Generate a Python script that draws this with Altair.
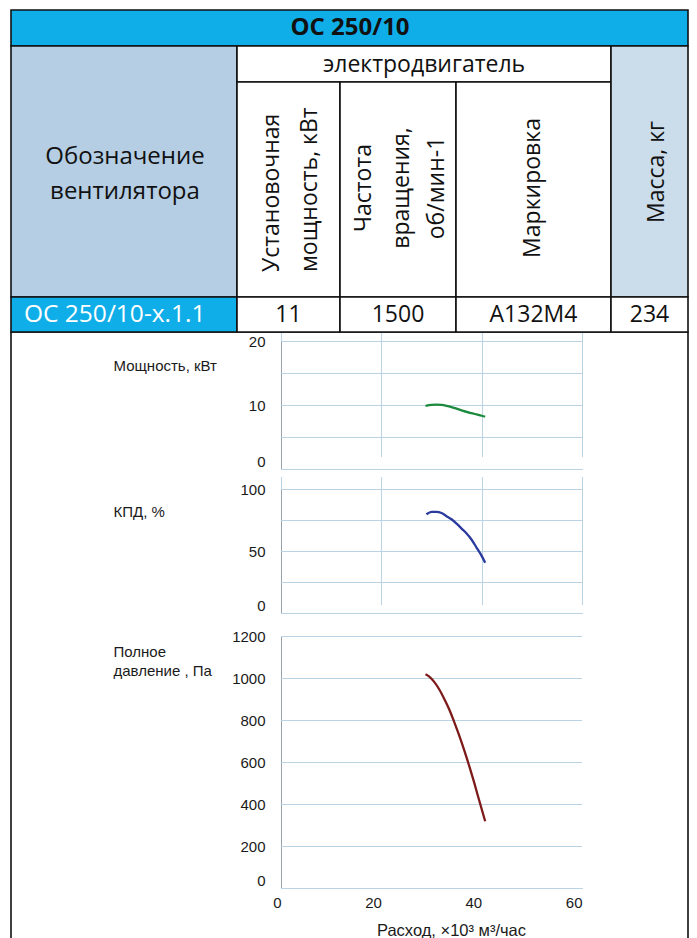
import altair as alt
import pandas as pd

# ---------------- data ----------------
TITLE = "ОС 250/10"
DESIGNATION_HEADER = ["Обозначение", "вентилятора"]
MOTOR_HEADER = "электродвигатель"
POWER_HEADER = ["Установочная", "мощность, кВт"]
SPEED_HEADER = ["Частота", "вращения,", "об/мин-1"]
MARK_HEADER = "Маркировка"
MASS_HEADER = "Масса, кг"
ROW_VALUES = ["ОС 250/10-x.1.1", "11", "1500", "А132М4", "234"]

FLOW_POWER = [28.8, 30.0, 31.0, 32.0, 33.0, 34.0, 35.0, 36.0, 37.0, 38.0, 39.0, 40.0, 40.7]
POWER_KW = [9.95, 10.1, 10.15, 10.1, 9.95, 9.75, 9.5, 9.25, 9.0, 8.8, 8.6, 8.4, 8.25]
FLOW_EFF = [29.0, 30.0, 31.0, 32.0, 33.0, 34.0, 35.0, 36.0, 37.0, 38.0, 39.0, 40.0, 40.7]
EFF_PCT = [80.0, 82.0, 82.0, 81.0, 78.5, 76.0, 72.5, 68.5, 64.5, 59.5, 53.0, 46.5, 41.0]
FLOW_PRESS = [28.8, 29.5, 30.5, 31.5, 32.5, 33.5, 34.5, 35.5, 36.5, 37.5, 38.5, 39.5, 40.7]
PRESS_PA = [1020, 1010, 985, 950, 905, 855, 795, 730, 660, 585, 505, 420, 320]

X_TICKS = [0, 20, 40, 60]
POWER_TICKS = [0, 5, 10, 15, 20]
EFF_TICKS = [0, 25, 50, 75, 100]
PRESS_TICKS = [0, 200, 400, 600, 800, 1000, 1200]
X_TITLE = "Расход, ×10³ м³/час"
POWER_TITLE = "Мощность, кВт"
EFF_TITLE = "КПД, %"
PRESS_TITLE = ["Полное", "давление , Па"]

# ---------------- layout / style ----------------
W, H = 681, 930
COLS = [3, 229, 332, 448, 603, 680]
ROWS = [2, 38, 74, 289, 324]
PLOT_X = [273, 574]
TABLE_FONT = "Open Sans"
CHART_FONT = "Liberation Sans"
BLUE = "#10aee8"
LIGHT = "#b5cee4"
LIGHT2 = "#cbdcea"
GRID = "#b9d3e4"
DOMAIN = "#98a3ac"
TXT = "#1a1a1a"

c, r = COLS, ROWS
cells = pd.DataFrame([
    dict(x=c[0], x2=c[5], y=r[0], y2=r[1], fill=BLUE),
    dict(x=c[0], x2=c[1], y=r[1], y2=r[3], fill=LIGHT),
    dict(x=c[1], x2=c[4], y=r[1], y2=r[2], fill="white"),
    dict(x=c[1], x2=c[2], y=r[2], y2=r[3], fill="white"),
    dict(x=c[2], x2=c[3], y=r[2], y2=r[3], fill="white"),
    dict(x=c[3], x2=c[4], y=r[2], y2=r[3], fill="white"),
    dict(x=c[4], x2=c[5], y=r[1], y2=r[3], fill=LIGHT2),
    dict(x=c[0], x2=c[1], y=r[3], y2=r[4], fill=BLUE),
    dict(x=c[1], x2=c[2], y=r[3], y2=r[4], fill="white"),
    dict(x=c[2], x2=c[3], y=r[3], y2=r[4], fill="white"),
    dict(x=c[3], x2=c[4], y=r[3], y2=r[4], fill="white"),
    dict(x=c[4], x2=c[5], y=r[3], y2=r[4], fill="white"),
])
region = pd.DataFrame([dict(x=c[0], x2=c[5], y=r[4], y2=H + 10)])

PX = dict(scale=None, axis=None)

cell_layer = alt.Chart(cells).mark_rect(stroke="#111111", strokeWidth=1.6).encode(
    x=alt.X("x:Q", **PX), x2="x2:Q",
    y=alt.Y("y:Q", **PX), y2="y2:Q",
    fill=alt.Fill("fill:N", scale=None),
)
region_layer = alt.Chart(region).mark_rect(stroke="#111111", strokeWidth=1.6, fillOpacity=0).encode(
    x=alt.X("x:Q", **PX), x2="x2:Q",
    y=alt.Y("y:Q", **PX), y2="y2:Q",
)

row_y = (r[3] + r[4]) / 2 + 0.5
center_texts = pd.DataFrame(
    [dict(t=DESIGNATION_HEADER[0], x=117, y=149, s=24),
     dict(t=DESIGNATION_HEADER[1], x=117, y=184, s=24),
     dict(t=MOTOR_HEADER, x=416, y=57, s=23)]
    + [dict(t=v, x=(c[i + 1] + c[i + 2]) / 2, y=row_y, s=23) for i, v in enumerate(ROW_VALUES[1:])]
)
center_layer = alt.Chart(center_texts).mark_text(font=TABLE_FONT, color="#111111", baseline="middle", align="center").encode(
    x=alt.X("x:Q", **PX), y=alt.Y("y:Q", **PX),
    text="t:N", size=alt.Size("s:Q", scale=None),
)
title_layer = alt.Chart(pd.DataFrame([dict(t=TITLE, x=342, y=20)])).mark_text(
    font=TABLE_FONT, fontSize=24, fontWeight="bold", color="#111111", baseline="middle", align="center"
).encode(x=alt.X("x:Q", **PX), y=alt.Y("y:Q", **PX), text="t:N")
first_cell_layer = alt.Chart(pd.DataFrame([dict(t=ROW_VALUES[0], x=16, y=row_y)])).mark_text(
    font=TABLE_FONT, fontSize=24.5, color="white", baseline="middle", align="left"
).encode(x=alt.X("x:Q", **PX), y=alt.Y("y:Q", **PX), text="t:N")

rot_center = pd.DataFrame(
    [dict(t=SPEED_HEADER[0], x=356, y=180), dict(t=SPEED_HEADER[1], x=394, y=180),
     dict(t=SPEED_HEADER[2], x=429, y=180), dict(t=MARK_HEADER, x=525, y=180),
     dict(t=MASS_HEADER, x=649, y=164)]
)
rot_center_layer = alt.Chart(rot_center).mark_text(
    font=TABLE_FONT, fontSize=23, color="#111111", angle=270, baseline="middle", align="center"
).encode(x=alt.X("x:Q", **PX), y=alt.Y("y:Q", **PX), text="t:N")
rot_bottom = pd.DataFrame([dict(t=POWER_HEADER[0], x=264, y=264), dict(t=POWER_HEADER[1], x=302, y=264)])
rot_bottom_layer = alt.Chart(rot_bottom).mark_text(
    font=TABLE_FONT, fontSize=23, color="#111111", angle=270, baseline="middle", align="left"
).encode(x=alt.X("x:Q", **PX), y=alt.Y("y:Q", **PX), text="t:N")


def panel(flow, vals, ydomain, yticks, yrange, color, title, title_y, label_step, show_x):
    # yrange: (bottom, top) in half-pixel positions so that horizontal rules are crisp
    xscale = alt.Scale(domain=[0, 60], range=PLOT_X, nice=False, zero=False)
    yscale = alt.Scale(domain=ydomain, range=list(yrange), nice=False, zero=False)
    df = pd.DataFrame({"q": flow, "v": vals})
    grid_df = pd.DataFrame({"v": yticks, "q0": [X_TICKS[0]] * len(yticks), "q1": [X_TICKS[-1]] * len(yticks)})
    xaxis_kw = dict(
        orient="bottom", offset=int(yrange[0]) - H, values=X_TICKS, grid=True, gridColor=GRID,
        domain=True, domainColor=DOMAIN, ticks=False, tickSize=0,
    )
    if show_x:
        xaxis_kw.update(
            labels=True, labelAlign="right", labelFlush=False, labelPadding=7,
            labelFont=CHART_FONT, labelFontSize=15, labelColor=TXT,
            title=X_TITLE, titleX=443, titleY=42, titleAlign="center", titleBaseline="middle",
            titleFont=CHART_FONT, titleFontSize=16.5, titleFontWeight="normal", titleColor=TXT,
        )
    else:
        xaxis_kw.update(labels=False, title=None)
    yaxis = alt.Axis(
        orient="left", offset=-PLOT_X[0], values=yticks, grid=False, format="d",
        domain=True, domainColor=DOMAIN, ticks=False, tickSize=0, labelPadding=16,
        labelFont=CHART_FONT, labelFontSize=15, labelColor=TXT,
        labelExpr=f"datum.value % {label_step} === 0 ? datum.label : ''",
        labelBaseline={"condition": {"test": "datum.value === 0", "value": "bottom"}, "value": "middle"},
        title=title, titleAngle=0, titleAlign="left", titleBaseline="top",
        titleX=105 - PLOT_X[0], titleY=title_y, titleFont=CHART_FONT, titleFontSize=15,
        titleFontWeight="normal", titleColor=TXT, titleLineHeight=19,
    )
    grid = alt.Chart(grid_df).mark_rule(color=GRID, strokeWidth=1).encode(
        x=alt.X("q0:Q", scale=xscale, axis=alt.Axis(**xaxis_kw)), x2="q1:Q",
        y=alt.Y("v:Q", scale=yscale, axis=yaxis),
    )
    line = alt.Chart(df).mark_line(color=color, strokeWidth=2.3, interpolate="monotone").encode(
        x=alt.X("q:Q", scale=xscale, axis=alt.Axis(**xaxis_kw)),
        y=alt.Y("v:Q", scale=yscale, axis=yaxis),
    )
    return alt.layer(grid, line)


p1 = panel(FLOW_POWER, POWER_KW, [0, 20], POWER_TICKS, (461.5, 333.5), "#1c8a3c", POWER_TITLE, 350, 10, False)
p2 = panel(FLOW_EFF, EFF_PCT, [0, 100], EFF_TICKS, (605.5, 481.5), "#2a3a9e", EFF_TITLE, 496, 50, False)
p3 = panel(FLOW_PRESS, PRESS_PA, [0, 1200], PRESS_TICKS, (880.5, 628.5), "#7d1a1a", PRESS_TITLE, 636, 200, True)

chart = alt.layer(
    region_layer, cell_layer, title_layer, center_layer, first_cell_layer,
    rot_center_layer, rot_bottom_layer, p1, p2, p3,
).resolve_scale(x="independent", y="independent").properties(
    width=W, height=H, autosize="none", padding=0, background="white"
).configure_view(stroke=None)

chart.save("out.html", embed_options={"renderer": "svg", "actions": False})
